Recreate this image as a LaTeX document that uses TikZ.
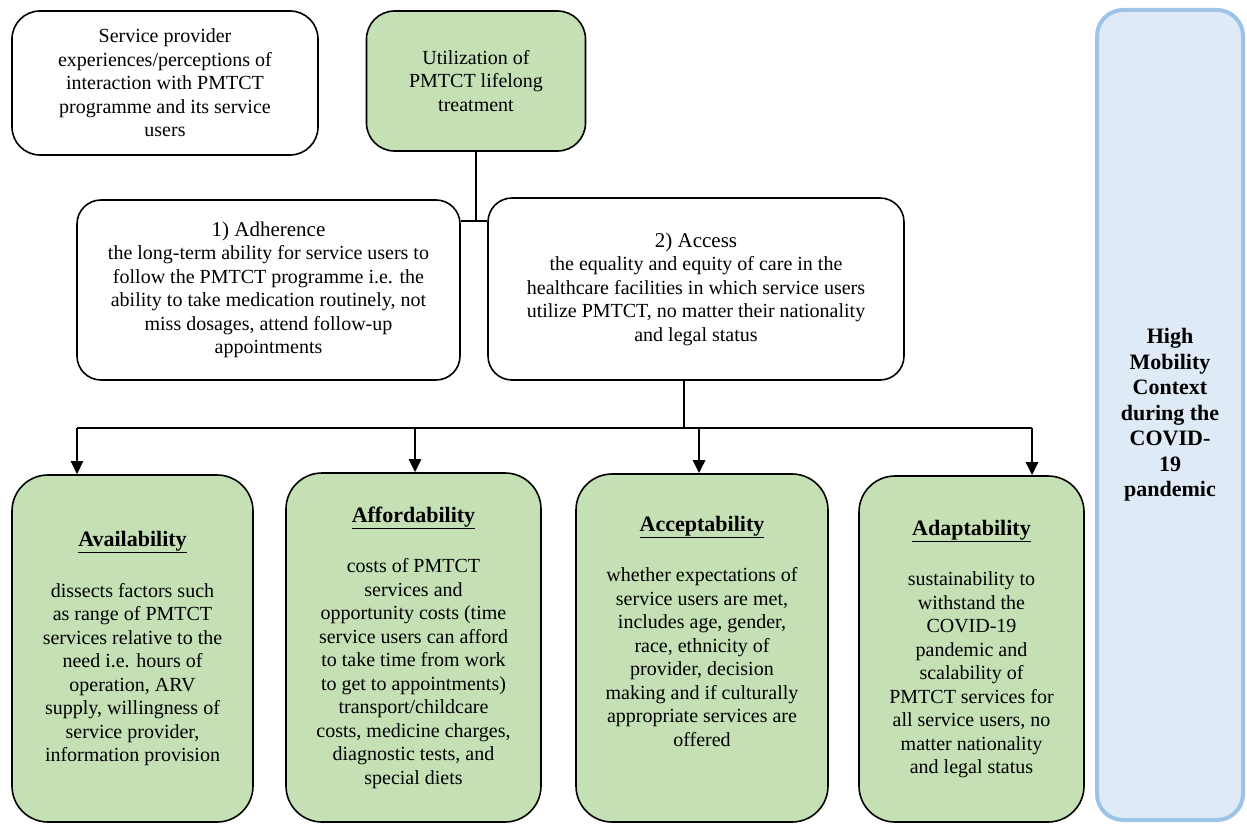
\documentclass[tikz,border=0pt]{standalone}
\usepackage{fontspec}
\setmainfont{Liberation Serif}
\usetikzlibrary{arrows.meta}

\definecolor{boxgreen}{HTML}{C5E0B4}
\definecolor{ctxfill}{HTML}{DEEBF7}
\definecolor{ctxline}{HTML}{9DC3E6}

\newcommand{\factorhead}[1]{{\fontsize{22}{24}\selectfont\textbf{\underline{#1}}}}

\tikzset{
  plainbox/.style={draw, line width=1.6pt, rounded corners=28pt, align=center,
    inner sep=4pt, font=\fontsize{20}{23.5}\selectfont},
  greenbox/.style={plainbox, fill=boxgreen},
  factorbox/.style={greenbox, rounded corners=36pt},
  ctxbox/.style={draw=ctxline, fill=ctxfill, line width=4pt, rounded corners=26pt,
    align=center, font=\bfseries\fontsize{22}{25.5}\selectfont},
  link/.style={line width=2.6pt},
  down/.style={link, -{Triangle[length=13pt,width=12pt]}}
}

\begin{document}
\begin{tikzpicture}[x=1pt, y=-1pt]
                \useasboundingbox (0,0) rectangle (1247,824);

                \node[plainbox, minimum width=306, minimum height=144] (provider) at (165,83)
                    {Service provider\\experiences/perceptions of\\interaction with PMTCT\\programme and its service\\users};

                \node[greenbox, minimum width=219, minimum height=140] (util) at (476,81)
                    {Utilization of\\PMTCT lifelong\\treatment};

                \node[plainbox, rounded corners=24pt, minimum width=383, minimum height=180] (adher) at (268.5,290)
                    {{\fontsize{21}{23}\selectfont 1) Adherence}\\the long-term ability for service users to\\follow the PMTCT programme i.e. the\\ability to take medication routinely, not\\miss dosages, attend follow-up\\appointments};

                \node[plainbox, rounded corners=24pt, minimum width=416, minimum height=182] (access) at (696,289)
                    {{\fontsize{21}{23}\selectfont 2) Access}\\the equality and equity of care in the\\healthcare facilities in which service users\\utilize PMTCT, no matter their nationality\\and legal status};

                \node[factorbox, minimum width=241, minimum height=347] (avail) at (132.5,648.5)
                    {\factorhead{Availability}\\[27pt]dissects factors such\\as range of PMTCT\\services relative to the\\need i.e. hours of\\operation, ARV\\supply, willingness of\\service provider,\\information provision};

                \node[factorbox, minimum width=255, minimum height=349] (afford) at (413.5,647.5)
                    {\factorhead{Affordability}\\[27pt]costs of PMTCT\\services and\\opportunity costs (time\\service users can afford\\to take time from work\\to get to appointments)\\transport/childcare\\costs, medicine charges,\\diagnostic tests, and\\special diets};

                \node[factorbox, minimum width=252, minimum height=348] (accept) at (702,648)
                    {\factorhead{Acceptability}\\[27pt]whether expectations of\\service users are met,\\includes age, gender,\\race, ethnicity of\\provider, decision\\making and if culturally\\appropriate services are\\offered\\[10pt]};

                \node[factorbox, minimum width=225, minimum height=346] (adapt) at (971.5,649)
                    {\factorhead{Adaptability}\\[27pt]sustainability to\\withstand the\\COVID-19\\pandemic and\\scalability of\\PMTCT services for\\all service users, no\\matter nationality\\and legal status};

                \node[ctxbox, minimum width=146, minimum height=810] (mobility) at (1170,415)
                    {High\\Mobility\\Context\\during the\\COVID-\\19\\pandemic};

                \coordinate (tee) at (util.south |- 0,221);

                \draw[link] (util.south) -- (tee);

                \draw[link] (adher.east |- tee) -- (access.west |- tee);

                \coordinate (split) at (684,428);

                \coordinate (b1) at (77,428);

                \coordinate (b2) at (415,428);

                \coordinate (b3) at (699,428);

                \coordinate (b4) at (1032,428);

                \draw[link] (split |- access.south) -- (split);

                \draw[link] (b1) -- (b4);

                \draw[down] (b1) -- (b1 |- avail.north);

                \draw[down] (b2) -- (b2 |- afford.north);

                \draw[down] (b3) -- (b3 |- accept.north);

                \draw[down] (b4) -- (b4 |- adapt.north);
            \end{tikzpicture}
\end{document}
